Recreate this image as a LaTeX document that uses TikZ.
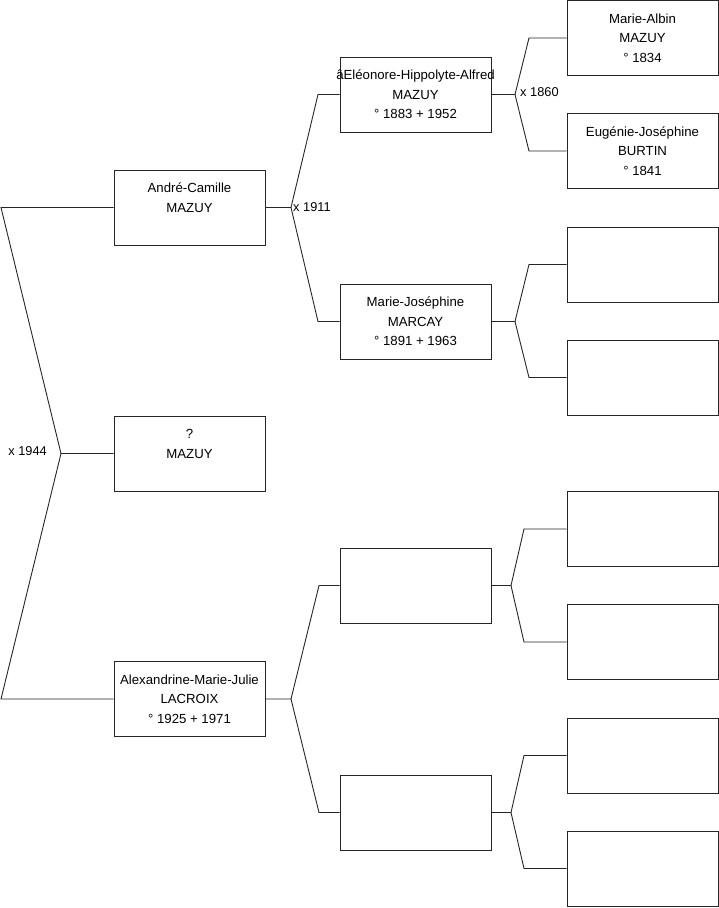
\documentclass[tikz,border=0pt]{standalone}
\usepackage{fontspec}
\setmainfont{Liberation Sans}
\begin{document}
\begin{tikzpicture}[x=1pt,y=-1pt,
  pbox/.style={draw=black!85, line width=0.9pt, minimum width=151pt, minimum height=75pt,
    inner sep=0pt, align=center, font=\fontsize{13.2}{19.5}\selectfont},
  conn/.style={draw=black!85, line width=0.9pt},
  mlabel/.style={inner sep=0pt, font=\fontsize{12.8}{15}\selectfont}]
\useasboundingbox (0,0) rectangle (719,908);
% column 1
\node[pbox] (andre) at (189.5,207.5) {André-Camille\\MAZUY\\{}};
\node[pbox] (unk) at (189.5,453.5) {?\\MAZUY\\{}};
\node[pbox] (alex) at (189.5,699) {Alexandrine-Marie-Julie\\LACROIX\\° 1925 + 1971};
% column 2
\node[pbox] (eleo) at (415.5,94.5) {\makebox[0pt][c]{âEléonore-Hippolyte-Alfred}\\MAZUY\\° 1883 + 1952};
\node[pbox] (marcay) at (415.5,321.5) {Marie-Joséphine\\MARCAY\\° 1891 + 1963};
\node[pbox] (e1) at (415.5,585.5) {};
\node[pbox] (e2) at (415.5,812.5) {};
% column 3
\node[pbox] (c1) at (642.5,38) {Marie-Albin\\MAZUY\\° 1834};
\node[pbox] (c2) at (642.5,151) {Eugénie-Joséphine\\BURTIN\\° 1841};
\node[pbox] (c3) at (642.5,264.5) {};
\node[pbox] (c4) at (642.5,377.5) {};
\node[pbox] (c5) at (642.5,529) {};
\node[pbox] (c6) at (642.5,642) {};
\node[pbox] (c7) at (642.5,755.5) {};
\node[pbox] (c8) at (642.5,868.5) {};
% junctions
\coordinate (j0) at (61,453.5);
\coordinate (j0a) at (1,207.5);
\coordinate (j0b) at (1,699);
\coordinate (j1) at (291,207.5);
\coordinate (j1a) at (318,94.5);
\coordinate (j1b) at (318,321.5);
\coordinate (j2) at (515,94.5);
\coordinate (j2a) at (529,38);
\coordinate (j2b) at (529,151);
\coordinate (j3) at (515,321.5);
\coordinate (j3a) at (529,264.5);
\coordinate (j3b) at (529,377.5);
\coordinate (j4) at (291,699);
\coordinate (j4a) at (319,585.5);
\coordinate (j4b) at (319,812.5);
\coordinate (j5) at (511,585.5);
\coordinate (j5a) at (524,529);
\coordinate (j5b) at (524,642);
\coordinate (j6) at (511,812.5);
\coordinate (j6a) at (524,755.5);
\coordinate (j6b) at (524,868.5);
% connectors
\draw[conn] (andre.west) -- (j0a) -- (j0) -- (unk.west);
\draw[conn] (j0) -- (j0b) -- (alex.west);
\draw[conn] (andre.east) -- (j1) -- (j1a) -- (eleo.west);
\draw[conn] (j1) -- (j1b) -- (marcay.west);
\draw[conn] (eleo.east) -- (j2) -- (j2a) -- (c1.west);
\draw[conn] (j2) -- (j2b) -- (c2.west);
\draw[conn] (marcay.east) -- (j3) -- (j3a) -- (c3.west);
\draw[conn] (j3) -- (j3b) -- (c4.west);
\draw[conn] (alex.east) -- (j4) -- (j4a) -- (e1.west);
\draw[conn] (j4) -- (j4b) -- (e2.west);
\draw[conn] (e1.east) -- (j5) -- (j5a) -- (c5.west);
\draw[conn] (j5) -- (j5b) -- (c6.west);
\draw[conn] (e2.east) -- (j6) -- (j6a) -- (c7.west);
\draw[conn] (j6) -- (j6b) -- (c8.west);
% marriage labels
\node[mlabel, anchor=east] (m1944) at (47,451) {x 1944};
\node[mlabel, anchor=west] (m1911) at (293,207) {x 1911};
\node[mlabel, anchor=west] (m1860) at (520,92) {x 1860};
\end{tikzpicture}
\end{document}
